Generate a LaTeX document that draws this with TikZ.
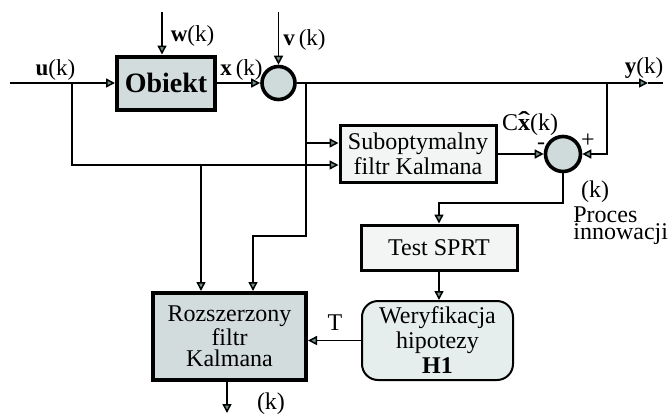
\documentclass[tikz,border=0pt]{standalone}
\usepackage{fontspec}
\setmainfont{Liberation Serif}
\usetikzlibrary{arrows.meta}
\definecolor{blockgray}{HTML}{D2DCDC}
\definecolor{sumgray}{HTML}{CFDADA}
\definecolor{lightgray}{HTML}{F3F4F4}
\definecolor{hypgray}{HTML}{E6EDED}
\definecolor{tipgray}{HTML}{6F8F8F}
\newcommand{\xhat}{\ooalign{\textbf{x}\cr\hidewidth\raisebox{0.05em}{\scalebox{1.5}[1]{\textbf{\symbol{"02C6}}}}\hidewidth\cr}}

\begin{document}
\begin{tikzpicture}[x=0.5pt, y=-0.5pt,
    every node/.style={font=\fontsize{12}{12.5}\selectfont},
    blk/.style={draw, line width=1.5pt, inner sep=0pt, align=center},
    sumnode/.style={circle, draw, line width=1.8pt, fill=sumgray, inner sep=0pt},
    sig/.style={line width=0.75pt},
    to/.style={sig, -{Triangle[length=4.5pt, width=4.5pt, fill=tipgray]}},
    lbl/.style={inner sep=0pt, anchor=base, font=\fontsize{11.5}{12}\selectfont}]
    \useasboundingbox (0,0) rectangle (671,414);

    \node[blk, line width=2pt, fill=blockgray, minimum width=49pt, minimum height=26.5pt,
          font=\fontsize{14}{15}\selectfont\bfseries] (obiekt) at (166,83) {Obiekt};
    \node[sumnode, minimum size=16.5pt] (s1) at (278.5,83) {};
    \node[blk, fill=lightgray, minimum width=78pt, minimum height=28.5pt] (sub) at (418,154)
        {Suboptymalny\\filtr Kalmana};
    \node[sumnode, minimum size=17.5pt] (s2) at (563,154) {};
    \node[blk, fill=lightgray, minimum width=78pt, minimum height=22.5pt] (test) at (439,247.5)
        {Test SPRT};
    \node[blk, line width=1pt, fill=hypgray, rounded corners=8pt, minimum width=75.5pt,
          minimum height=39.5pt] (wer) at (437.5,340.5) {Weryfikacja\\hipotezy\\\textbf{H1}};
    \node[blk, line width=2pt, fill=blockgray, minimum width=76.5pt, minimum height=43.5pt,
          font=\fontsize{12}{10.5}\selectfont] (roz) at (229.5,336.5) {Rozszerzony\\filtr\\Kalmana};

    \coordinate (uin) at (10,83);
    \coordinate (uj) at (72,83);
    \coordinate (yj) at (306,83);
    \coordinate (yfb) at (607,83);
    \coordinate (yout) at (648,83);
    \coordinate (yend) at (663,83);
    \coordinate (wtop) at (162,12);
    \coordinate (vtop) at (278.5,12);
    \coordinate (uk) at (201,165);
    \coordinate (yk) at (306,236);
    \coordinate (ek) at (563,203);
    \coordinate (rout) at (227,413);

    \draw[to] (uin) -- (obiekt.west);
    \draw[to] (obiekt.east) -- (s1.west);
    \draw[to] (wtop) -- (wtop |- obiekt.north);
    \draw[to] (vtop) -- (s1.north);
    \draw[to] (s1.east) -- (yout);
    \draw[sig] (yout) -- (yend);
    \draw[to] (uj) |- ([yshift=-5.5pt]sub.west);
    \draw[to] (yj) |- ([yshift=5.5pt]sub.west);
    \draw[to] (yj) -- (yk) -| ([xshift=11.75pt]roz.north);
    \draw[to] (uk) -- (uk |- roz.north);
    \draw[to] (sub.east) -- (s2.west);
    \draw[to] (yfb) |- (s2.east);
    \draw[to] (s2.south) -- (ek) -| (test.north);
    \draw[to] (test.south) -- (test.south |- wer.north);
    \draw[to] (wer.west) -- (wer.west -| roz.east);
    \draw[to] (roz.south -| rout) -- (rout);

    \node[lbl] (ulbl) at (55.5,75) {\textbf{u}(k)};
    \node[lbl] (wlbl) at (192.5,41) {\textbf{w}(k)};
    \node[lbl] (xlbl) at (241.5,75) {\textbf{x}\,(k)};
    \node[lbl] (vlbl) at (304.5,45) {\textbf{v}\,(k)};
    \node[lbl] (ylbl) at (644,73) {\textbf{y}(k)};
    \node[lbl, font=\fontsize{12}{12}\selectfont] (chat) at (530,130) {C\xhat(k)};
    \node[inner sep=0pt] (minus) at (541,146) {-};
    \node[inner sep=0pt] (plus) at (588,141) {+};
    \node[lbl, font=\fontsize{12}{12}\selectfont] (ek1) at (595,197) {(k)};
    \node[inner sep=0pt, anchor=base west, align=left, font=\fontsize{12}{8.5}\selectfont]
        (innov) at (573,239) {Proces\\innowacji};
    \node[lbl, font=\fontsize{12}{12}\selectfont] (tlbl) at (335,330) {T};
    \node[lbl, font=\fontsize{12}{12}\selectfont] (ek2) at (271,409) {(k)};
\end{tikzpicture}
\end{document}
